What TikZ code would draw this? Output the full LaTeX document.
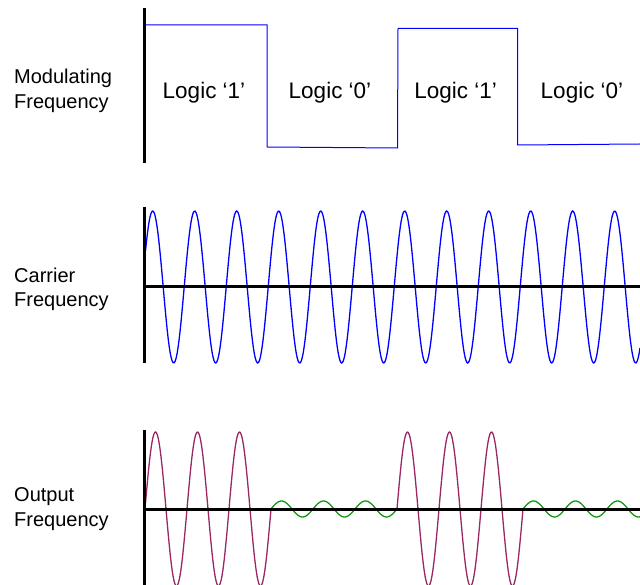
\documentclass[tikz,border=0pt]{standalone}
\usepackage{fontspec}
\setmainfont{Liberation Sans}
\definecolor{wblue}{RGB}{0,0,255}
\definecolor{wplum}{RGB}{153,40,100}
\definecolor{wgreen}{RGB}{20,150,20}
\begin{document}
\begin{tikzpicture}[x=1pt,y=-1pt,
  axisline/.style={line width=3pt,black},
  sqwave/.style={line width=1pt,wblue},
  wave/.style={line width=1.3pt,smooth},
  sidelabel/.style={anchor=base west,inner sep=0pt,align=left,font=\fontsize{20}{24.5}\selectfont},
  logiclabel/.style={anchor=base,inner sep=0pt,font=\fontsize{22.5}{26}\selectfont}]
\useasboundingbox (0,0) rectangle (640,585);
% ---- labels
\node[sidelabel] (lmod) at (14,108.5) {Modulating\\Frequency};
\node[sidelabel] (lcar) at (14,306.5) {Carrier\\Frequency};
\node[sidelabel] (lout) at (14,526.2) {Output\\Frequency};
\node[logiclabel] (l1) at (204,98.3) {Logic ‘1’};
\node[logiclabel] (l2) at (330,98.3) {Logic ‘0’};
\node[logiclabel] (l3) at (455.7,98.3) {Logic ‘1’};
\node[logiclabel] (l4) at (582,98.3) {Logic ‘0’};
% ---- modulating square wave
\draw[sqwave] (145,25) -- (267,25) -- (267,147) -- (397.5,148) -- (398,28.5) -- (517.5,28.5) -- (517.5,145) -- (640,144);
% ---- carrier
\draw[wave,wblue] plot[domain=145.5:640,samples=500] (\x,{287-76*sin((\x-142.2)/42*360)});
% ---- output
\begin{scope}
\clip (140,420) rectangle (640,585);
\draw[wave,wplum] plot[domain=145.5:271,samples=150] (\x,{509-77*sin((\x-145)/42*360)});
\draw[wave,wplum] plot[domain=397:523,samples=150] (\x,{509-77*sin((\x-145)/42*360)});
\end{scope}
\draw[wave,wgreen] plot[domain=271:397,samples=150] (\x,{509-8*sin((\x-145)/42*360)});
\draw[wave,wgreen] plot[domain=523:640,samples=150] (\x,{509-8*sin((\x-145)/42*360)});
% ---- axes
\coordinate (a1t) at (144.5,8);
\coordinate (a1b) at (144.5,163);
\coordinate (a2t) at (144.5,207);
\coordinate (a2b) at (144.5,363);
\coordinate (h2l) at (143,287);
\coordinate (h2r) at (640,287);
\coordinate (a3t) at (144.5,430);
\coordinate (a3b) at (144.5,585);
\coordinate (h3l) at (143,509);
\coordinate (h3r) at (640,509);
\draw[axisline] (a1t) -- (a1b);
\draw[axisline] (a2t) -- (a2b);
\draw[axisline] (h2l) -- (h2r);
\draw[axisline] (a3t) -- (a3b);
\draw[axisline] (h3l) -- (h3r);
\end{tikzpicture}
\end{document}
